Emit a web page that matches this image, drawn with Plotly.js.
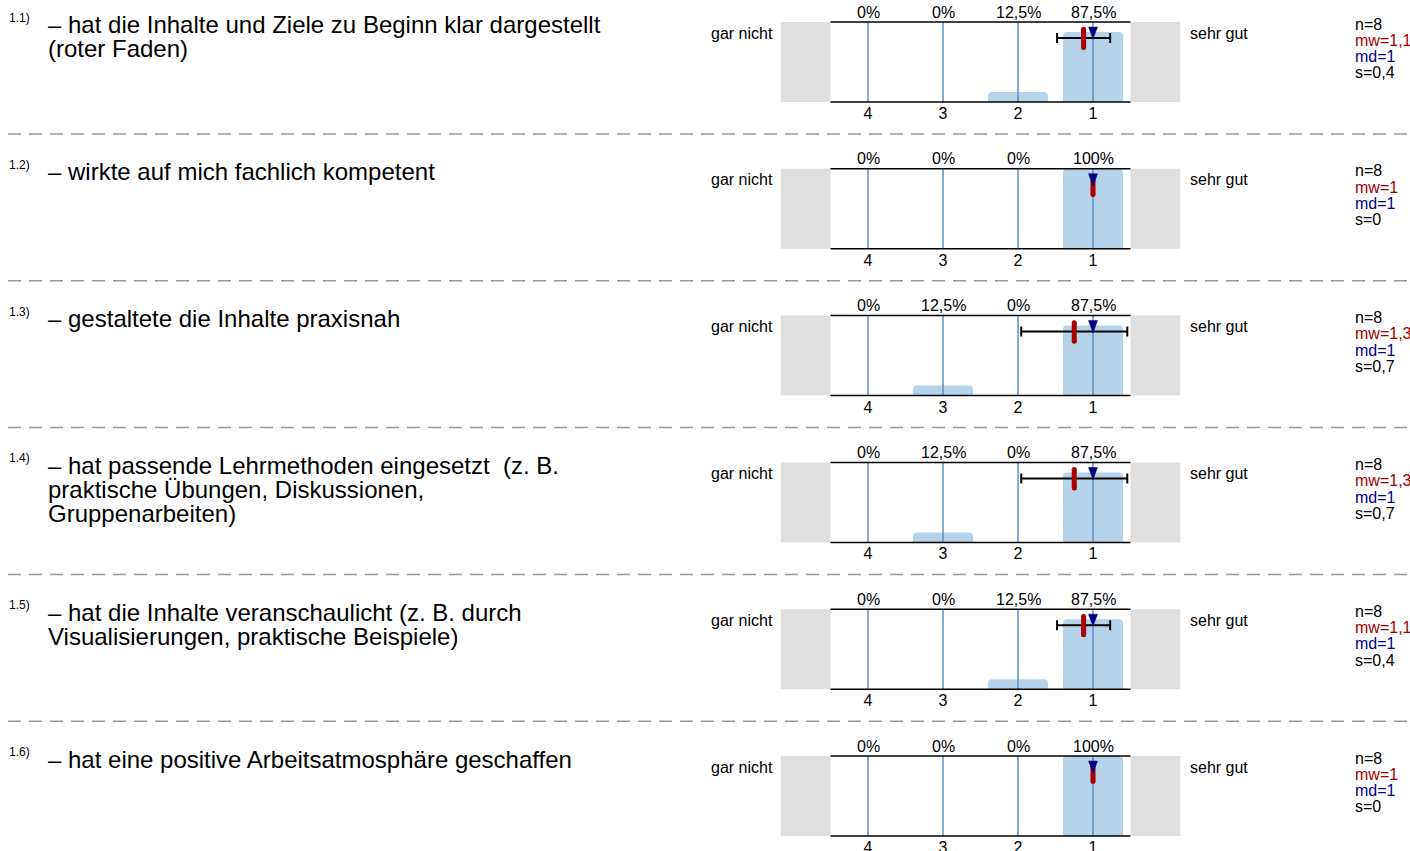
<!DOCTYPE html>
<html>
<head>
<meta charset="utf-8">
<script src="https://cdn.plot.ly/plotly-3.0.1.min.js"></script>
<style>
html,body{margin:0;padding:0;background:#fff;}
#chart{width:1410px;height:851px;}
</style>
</head>
<body>
<div id="chart"></div>
<script>
// ---------------- data ----------------
const itemNumbers = ["1.1)", "1.2)", "1.3)", "1.4)", "1.5)", "1.6)"];
const itemLabels = [
  ["– hat die Inhalte und Ziele zu Beginn klar dargestellt", "(roter Faden)"],
  ["– wirkte auf mich fachlich kompetent"],
  ["– gestaltete die Inhalte praxisnah"],
  ["– hat passende Lehrmethoden eingesetzt  (z. B.", "praktische Übungen, Diskussionen,", "Gruppenarbeiten)"],
  ["– hat die Inhalte veranschaulicht (z. B. durch", "Visualisierungen, praktische Beispiele)"],
  ["– hat eine positive Arbeitsatmosphäre geschaffen"]
];
const scaleValues = [4, 3, 2, 1];
const scaleTickLabels = ["4", "3", "2", "1"];
const leftPole = "gar nicht";
const rightPole = "sehr gut";
// percentages for scale values 4,3,2,1
const pct1 = [0, 0, 12.5, 87.5];
const pct2 = [0, 0, 0, 100];
const pct3 = [0, 12.5, 0, 87.5];
const pct4 = [0, 12.5, 0, 87.5];
const pct5 = [0, 0, 12.5, 87.5];
const pct6 = [0, 0, 0, 100];
const percentages = [pct1, pct2, pct3, pct4, pct5, pct6];
const nValues = [8, 8, 8, 8, 8, 8];
const meanValues = [1.125, 1, 1.25, 1.25, 1.125, 1];
const medianValues = [1, 1, 1, 1, 1, 1];
const sdValues = [0.354, 0, 0.707, 0.707, 0.354, 0];

// ---------------- layout constants ----------------
const W = 1410, H = 851;
const pitch = 146.8, top0 = 22, plotH = 80;
const xLeftPx = 780.5, xRightPx = 1180.5;
const FONT = "Liberation Sans, Arial, Helvetica, sans-serif";
const barColor = "#b5d4ec";
const gridColor = "#5b90c6";
const greyColor = "#dfdfdf";
const meanColor = "#aa0000";
const medianColor = "#000080";

const py = p => 1 - p / H;
const px = p => p / W;
const fmt = v => String(v).replace(".", ",");
const fmt1 = v => fmt((Math.round(v * 10) / 10).toString());

const data = [];
const shapes = [];
const annotations = [];
const layout = {
  width: W, height: H,
  margin: {l: 0, r: 0, t: 0, b: 0},
  paper_bgcolor: "#fff", plot_bgcolor: "rgba(0,0,0,0)",
  showlegend: false,
  barcornerradius: 4,
  font: {family: FONT, color: "#000"}
};

for (let i = 0; i < 6; i++) {
  const k = i === 0 ? "" : String(i + 1);
  const xa = "x" + k, ya = "y" + k;
  const o = i * pitch;
  const topPx = top0 + o, botPx = top0 + plotH + o;

  layout["xaxis" + k] = {
    domain: [px(xLeftPx), px(xRightPx)],
    range: [5.1667, -0.1667],
    anchor: ya,
    tickvals: scaleValues, ticktext: scaleTickLabels,
    tickfont: {family: FONT, size: 16, color: "#000"},
    ticks: "", showgrid: false, zeroline: false, showline: false,
    ticklabelstandoff: 0,
    fixedrange: true
  };
  layout["yaxis" + k] = {
    domain: [py(botPx), py(topPx)],
    range: [0, 100], visible: false, fixedrange: true, anchor: xa
  };

  // bars
  data.push({
    type: "bar", x: scaleValues, y: percentages[i], xaxis: xa, yaxis: ya,
    width: 0.8, marker: {color: barColor, line: {width: 0}}, hoverinfo: "skip"
  });
  // gridlines (drawn over bars)
  const gx = [], gy = [];
  scaleValues.forEach(v => { gx.push(v, v, null); gy.push(0, 100, null); });
  data.push({
    type: "scatter", mode: "lines", x: gx, y: gy, xaxis: xa, yaxis: ya,
    line: {color: gridColor, width: 1.5}, hoverinfo: "skip"
  });
  // standard deviation error bar
  if (sdValues[i] > 0) {
    data.push({
      type: "scatter", mode: "markers", x: [meanValues[i]], y: [80], xaxis: xa, yaxis: ya,
      marker: {size: 1, opacity: 0},
      error_x: {type: "data", array: [sdValues[i]], color: "#000", thickness: 2, width: 5},
      hoverinfo: "skip"
    });
  }
  // mean marker
  data.push({
    type: "scatter", mode: "lines+markers", x: [meanValues[i], meanValues[i]], y: [68, 91],
    xaxis: xa, yaxis: ya,
    line: {color: meanColor, width: 5}, marker: {color: meanColor, size: 5, symbol: "circle"},
    hoverinfo: "skip"
  });
  // median triangle
  const m = medianValues[i];
  data.push({
    type: "scatter", mode: "lines", x: [m - 0.06, m + 0.06, m, m - 0.06], y: [93.75, 93.75, 78.75, 93.75],
    xaxis: xa, yaxis: ya, fill: "toself", fillcolor: medianColor,
    line: {color: medianColor, width: 0.5}, hoverinfo: "skip"
  });

  // grey side boxes
  shapes.push({type: "rect", xref: xa, yref: ya + " domain", x0: 5.1667, x1: 4.5, y0: 0, y1: 1,
    fillcolor: greyColor, line: {width: 0}, layer: "below"});
  shapes.push({type: "rect", xref: xa, yref: ya + " domain", x0: 0.5, x1: -0.1667, y0: 0, y1: 1,
    fillcolor: greyColor, line: {width: 0}, layer: "below"});
  // top & bottom frame lines
  [0, 1].forEach(yy => shapes.push({type: "line", xref: xa, yref: ya + " domain",
    x0: 4.5, x1: 0.5, y0: yy, y1: yy, line: {color: "#000", width: 1.5}, layer: "above"}));
  // separator
  if (i < 5) {
    shapes.push({type: "line", xref: "paper", yref: "paper", x0: px(8), x1: 1,
      y0: py(134 + o), y1: py(134 + o), line: {color: "#999", width: 1.5, dash: "13px,8px"}});
  }

  // percent labels
  scaleValues.forEach((v, j) => annotations.push({
    xref: xa, yref: "paper", x: v, y: py(12 + o), xanchor: "center", yanchor: "middle",
    text: fmt(percentages[i][j]) + "%", showarrow: false, font: {family: FONT, size: 16, color: "#000"}
  }));
  // poles
  annotations.push({xref: "paper", yref: "paper", x: px(775), y: py(33 + o), xanchor: "right", yanchor: "middle",
    text: leftPole, showarrow: false, font: {family: FONT, size: 16, color: "#000"}});
  annotations.push({xref: "paper", yref: "paper", x: px(1188), y: py(33 + o), xanchor: "left", yanchor: "middle",
    text: rightPole, showarrow: false, font: {family: FONT, size: 16, color: "#000"}});
  // stats
  const stats = [
    ["n=" + nValues[i], "#000"],
    ["mw=" + fmt1(meanValues[i]), "#a00000"],
    ["md=" + fmt(medianValues[i]), "#000090"],
    ["s=" + fmt1(sdValues[i]), "#000"]
  ];
  stats.forEach((s, j) => annotations.push({
    xref: "paper", yref: "paper", x: px(1353), y: py(24 + j * 16.3 + o), xanchor: "left", yanchor: "middle",
    text: s[0], showarrow: false, font: {family: FONT, size: 16, color: s[1]}
  }));
  // item number
  annotations.push({xref: "paper", yref: "paper", x: px(7), y: py(18 + o), xanchor: "left", yanchor: "middle",
    text: itemNumbers[i], showarrow: false, font: {family: FONT, size: 12, color: "#000"}});
  // item label lines
  itemLabels[i].forEach((line, j) => annotations.push({
    xref: "paper", yref: "paper", x: px(46), y: py(25 + j * 24 + o), xanchor: "left", yanchor: "middle",
    text: line, showarrow: false, font: {family: FONT, size: 24, color: "#000"}
  }));
}

layout.shapes = shapes;
layout.annotations = annotations;

Plotly.newPlot("chart", data, layout, {staticPlot: true, displayModeBar: false});
</script>
</body>
</html>
